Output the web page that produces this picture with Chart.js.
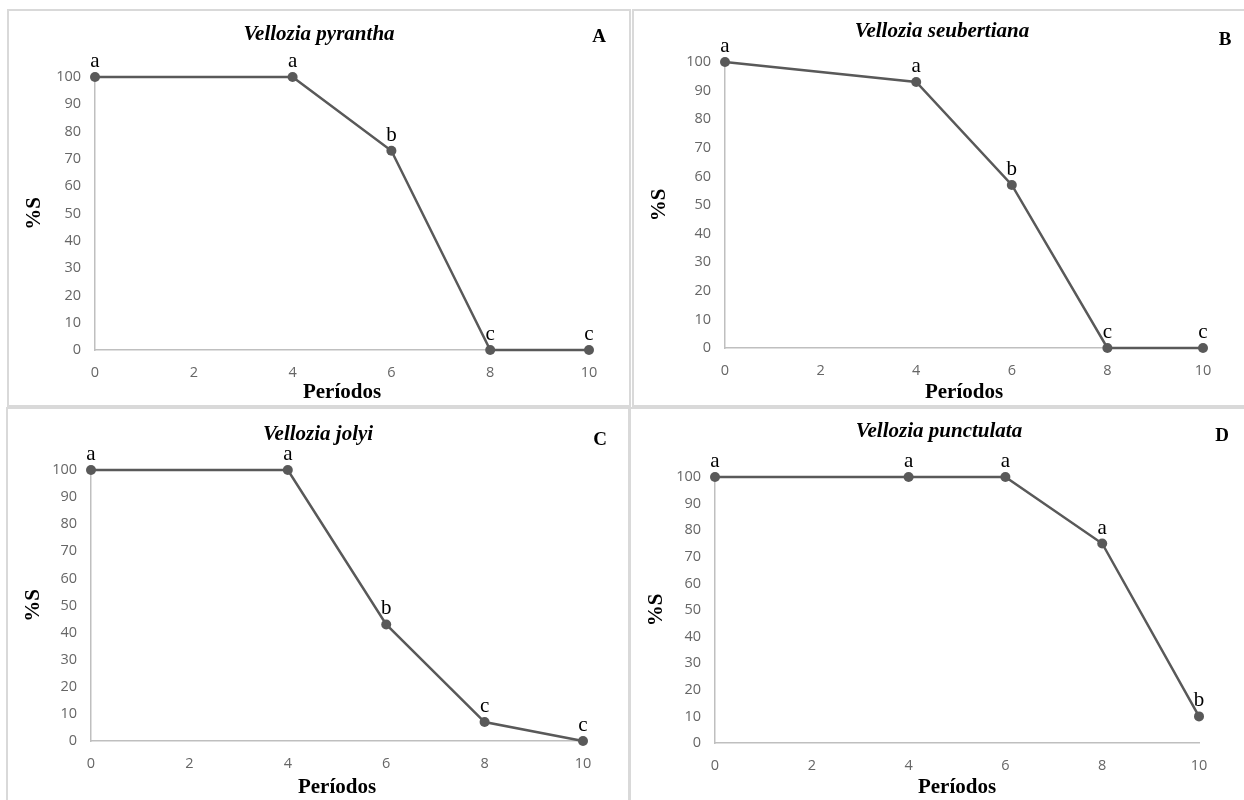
<!DOCTYPE html>
<html>
<head>
<meta charset="utf-8">
<script src="https://cdn.jsdelivr.net/npm/chart.js@4.4.1/dist/chart.umd.min.js"></script>
<style>
  html, body { margin: 0; padding: 0; background: #fff; overflow: hidden; }
  body { width: 1244px; height: 800px; position: relative; }
  .panel { position: absolute; border: 2px solid #d9d9d9; background: #fff; box-sizing: content-box; }
  .panel canvas { display: block; }
</style>
</head>
<body>
<div class="panel" id="pA"><canvas id="chartA"></canvas></div>
<div class="panel" id="pB"><canvas id="chartB"></canvas></div>
<div class="panel" id="pC"><canvas id="chartC"></canvas></div>
<div class="panel" id="pD"><canvas id="chartD"></canvas></div>
<script>
/* ---- data ---- */
const periods = [0, 4, 6, 8, 10];
const xTicks = [0, 2, 4, 6, 8, 10];

const pyrantha = [100, 100, 73, 0, 0];
const pyranthaLetters = ["a", "a", "b", "c", "c"];

const seubertiana = [100, 93, 57, 0, 0];
const seubertianaLetters = ["a", "a", "b", "c", "c"];

const jolyi = [100, 100, 43, 7, 0];
const jolyiLetters = ["a", "a", "b", "c", "c"];

const punctulata = [100, 100, 100, 75, 10];
const punctulataLetters = ["a", "a", "a", "a", "b"];

const titles = ["Vellozia pyrantha", "Vellozia seubertiana", "Vellozia jolyi", "Vellozia punctulata"];
const panelLetters = ["A", "B", "C", "D"];
const yLabel = "%S";
const xLabel = "Períodos";

/* ---- layout of the four boxes (inner size, plot edges, text spots) ---- */
const PANELS = [
  { id: "A", left: 7,   top: 9,   w: 620, h: 394, x0: 86, x10: 580, y100: 66, y0: 339, titleY: 29, letterX: 590, letterY: 31 },
  { id: "B", left: 632, top: 9,   w: 616, h: 394, x0: 91, x10: 569, y100: 51, y0: 337, titleY: 26, letterX: 591, letterY: 34 },
  { id: "C", left: 6,   top: 407, w: 620, h: 391, x0: 83, x10: 575, y100: 61, y0: 332, titleY: 31, letterX: 592, letterY: 36 },
  { id: "D", left: 629, top: 407, w: 616, h: 391, x0: 84, x10: 568, y100: 68, y0: 334, titleY: 28, letterX: 591, letterY: 32 }
];

const SERIES = [
  { values: pyrantha, letters: pyranthaLetters },
  { values: seubertiana, letters: seubertianaLetters },
  { values: jolyi, letters: jolyiLetters },
  { values: punctulata, letters: punctulataLetters }
];

const LINE = "#595959";
const TICK = "#666666";
const AXIS = "#bfbfbf";
const SERIF = "'Liberation Serif', 'Times New Roman', serif";
const SANS = "'Open Sans', 'Liberation Sans', sans-serif";

/* draws title, panel letter and the significance letters over points */
const textPlugin = {
  id: "panelText",
  afterDatasetsDraw(chart, args, opts) {
    const ctx = chart.ctx;
    ctx.save();
    ctx.fillStyle = "#000";
    ctx.textAlign = "center";
    ctx.textBaseline = "alphabetic";
    // title
    ctx.font = "italic bold 21px " + SERIF;
    ctx.fillText(opts.title, chart.width / 2, opts.titleY);
    // panel letter
    ctx.font = "bold 19px " + SERIF;
    ctx.fillText(opts.letter, opts.letterX, opts.letterY);
    // point letters
    ctx.font = "21px " + SERIF;
    const meta = chart.getDatasetMeta(0);
    meta.data.forEach((pt, i) => {
      ctx.fillText(opts.labels[i], pt.x, pt.y - 10);
    });
    ctx.restore();
  }
};

function makeChart(p, s, idx) {
  const box = document.getElementById("p" + p.id);
  box.style.left = p.left + "px";
  box.style.top = p.top + "px";
  box.style.width = p.w + "px";
  box.style.height = p.h + "px";
  const canvas = document.getElementById("chart" + p.id);
  canvas.width = p.w;
  canvas.height = p.h;
  canvas.style.width = p.w + "px";
  canvas.style.height = p.h + "px";

  return new Chart(canvas.getContext("2d"), {
    type: "line",
    data: {
      datasets: [{
        data: periods.map((x, i) => ({ x: x, y: s.values[i] })),
        borderColor: LINE,
        backgroundColor: LINE,
        borderWidth: 2.5,
        pointRadius: 5,
        pointHoverRadius: 5,
        pointBackgroundColor: LINE,
        pointBorderWidth: 0,
        tension: 0,
        clip: false
      }]
    },
    options: {
      responsive: false,
      animation: false,
      devicePixelRatio: 1,
      layout: { padding: { left: 0, top: p.y100, right: p.w - p.x10, bottom: 0 } },
      plugins: {
        legend: { display: false },
        tooltip: { enabled: false },
        panelText: {
          title: titles[idx], letter: panelLetters[idx], labels: s.letters,
          titleY: p.titleY, letterX: p.letterX, letterY: p.letterY
        }
      },
      scales: {
        x: {
          type: "linear", min: 0, max: 10,
          afterBuildTicks: sc => { sc.ticks = xTicks.map(v => ({ value: v })); },
          afterFit: sc => { sc.height = p.h - p.y0; },
          grid: { display: false, drawTicks: false },
          border: { display: true, color: AXIS, width: 1.5 },
          ticks: { color: TICK, font: { family: SANS, size: 14.5 }, padding: 14, maxRotation: 0 },
          title: { display: true, text: xLabel, color: "#000", font: { family: SERIF, size: 21, weight: "bold" }, padding: { top: 0, bottom: 0 } }
        },
        y: {
          type: "linear", min: 0, max: 100,
          afterFit: sc => { sc.width = p.x0; },
          grid: { display: false, drawTicks: false },
          border: { display: true, color: AXIS, width: 1.5 },
          ticks: { stepSize: 10, color: TICK, font: { family: SANS, size: 14.5 }, padding: 14 },
          title: { display: true, text: yLabel, color: "#000", font: { family: SERIF, size: 21, weight: "bold" }, padding: { top: 13, bottom: 0 } }
        }
      }
    },
    plugins: [textPlugin]
  });
}

PANELS.forEach((p, i) => makeChart(p, SERIES[i], i));
</script>
</body>
</html>
